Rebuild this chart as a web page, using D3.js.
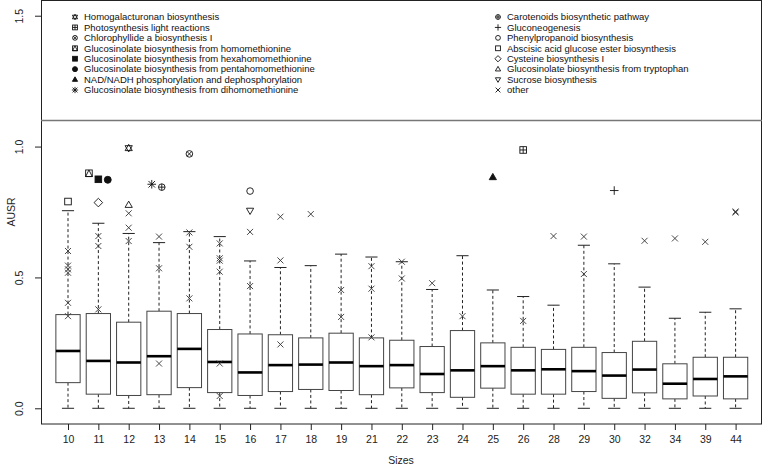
<!DOCTYPE html>
<html><head><meta charset="utf-8">
<script src="https://cdn.jsdelivr.net/npm/d3@7"></script>
<style>body{margin:0;background:#fff}svg{display:block;font-family:"Liberation Sans",Arial,sans-serif}</style>
</head><body><svg id="c" width="763" height="468"></svg>
<script>
const sizes = ["10","11","12","13","14","15","16","17","18","19","21","22","23","24","25","26","28","29","30","32","34","39","44"];
const whiskerLow = [0,0,0,0,0,0,0,0,0,0,0,0,0,0,0,0,0,0,0,0,0,0,0];
const q1 = [0.098,0.054,0.049,0.052,0.079,0.060,0.049,0.064,0.072,0.068,0.052,0.078,0.060,0.042,0.077,0.054,0.054,0.064,0.038,0.059,0.036,0.047,0.036];
const medians = [0.219,0.181,0.175,0.199,0.227,0.177,0.137,0.165,0.167,0.175,0.161,0.165,0.131,0.145,0.161,0.145,0.149,0.142,0.125,0.148,0.094,0.112,0.122];
const q3 = [0.358,0.362,0.329,0.371,0.362,0.301,0.284,0.281,0.269,0.287,0.269,0.260,0.236,0.297,0.250,0.233,0.225,0.233,0.213,0.256,0.170,0.195,0.195];
const whiskerHigh = [0.755,0.707,0.668,0.633,0.675,0.656,0.563,0.538,0.545,0.589,0.578,0.560,0.454,0.583,0.452,0.427,0.394,0.623,0.552,0.463,0.344,0.367,0.380];
// "other" outliers: size label and value
const otherSize = ["10","10","10","10","10","10","11","11","11","12","12","12","13","13","13","14","14","14","15","15","15","15","15","15","16","16","17","17","17","18","19","19","21","21","21","22","22","23","24","26","28","29","29","32","34","39","44","44"];
const otherValue = [0.601,0.545,0.531,0.518,0.403,0.352,0.658,0.620,0.378,0.745,0.690,0.639,0.656,0.535,0.171,0.672,0.617,0.420,0.630,0.573,0.564,0.522,0.171,0.047,0.674,0.467,0.732,0.565,0.244,0.742,0.452,0.349,0.543,0.457,0.271,0.560,0.496,0.478,0.352,0.334,0.658,0.656,0.513,0.640,0.649,0.636,0.752,0.748];
// named pathways
const pathways = ["Homogalacturonan biosynthesis","Photosynthesis light reactions","Chlorophyllide a biosynthesis I","Glucosinolate biosynthesis from homomethionine","Glucosinolate biosynthesis from hexahomomethionine","Glucosinolate biosynthesis from pentahomomethionine","NAD/NADH phosphorylation and dephosphorylation","Glucosinolate biosynthesis from dihomomethionine","Carotenoids biosynthetic pathway","Gluconeogenesis","Phenylpropanoid biosynthesis","Abscisic acid glucose ester biosynthesis","Cysteine biosynthesis I","Glucosinolate biosynthesis from tryptophan","Sucrose biosynthesis","other"];
const pathwayPch = [11,12,13,14,15,16,17,8,10,3,1,0,5,2,6,4];
const pathwaySize = ["12","26","14","11","11","11","25","13","13","30","16","10","11","12","16"];
const pathwayValue = [0.994,0.987,0.972,0.898,0.875,0.873,0.883,0.856,0.845,0.832,0.830,0.790,0.786,0.777,0.755];
const pathwayJitter = [0,0,0,-0.31,0,0.31,0,-0.24,0.09,0,0,0,0,0,0];
const yTicks = [0,0.5,1.0,1.5];
const legendCut = 1.1;

const svg = d3.select("#c");
const x = d3.scaleLinear().domain([0.11, 23.87]).range([41, 762]);
const y = d3.scaleLinear().domain([-0.06, 1.56]).range([424, 0]);
const pos = s => sizes.indexOf(s) + 1;
const unit = x(2) - x(1);

function sym(g, pch, cx, cy, r, col) {
  col = col || "#111";
  const s = g.append("g").attr("transform", `translate(${cx},${cy})`)
    .attr("fill","none").attr("stroke",col).attr("stroke-width",0.9);
  const tri = (up, rr) => { const h = rr*1.15; return up ? `M0,${-h}L${h*0.95},${h*0.65}L${-h*0.95},${h*0.65}Z` : `M0,${h}L${h*0.95},${-h*0.65}L${-h*0.95},${-h*0.65}Z`; };
  switch (pch) {
    case 0: s.append("rect").attr("x",-r).attr("y",-r).attr("width",2*r).attr("height",2*r); break;
    case 1: s.append("circle").attr("r",r); break;
    case 2: s.append("path").attr("d",tri(true,r)); break;
    case 3: s.append("path").attr("d",`M${-r*1.3},0H${r*1.3}M0,${-r*1.3}V${r*1.3}`); break;
    case 4: s.append("path").attr("d",`M${-r},${-r}L${r},${r}M${-r},${r}L${r},${-r}`); break;
    case 5: s.append("path").attr("d",`M0,${-r*1.3}L${r*1.3},0L0,${r*1.3}L${-r*1.3},0Z`); break;
    case 6: s.append("path").attr("d",tri(false,r)); break;
    case 8: s.append("path").attr("d",`M${-r},${-r}L${r},${r}M${-r},${r}L${r},${-r}M${-r*1.3},0H${r*1.3}M0,${-r*1.3}V${r*1.3}`); break;
    case 10: s.append("circle").attr("r",r); s.append("path").attr("d",`M${-r},0H${r}M0,${-r}V${r}`); break;
    case 11: s.append("path").attr("d",tri(true,r)+tri(false,r)); break;
    case 12: s.append("rect").attr("x",-r).attr("y",-r).attr("width",2*r).attr("height",2*r); s.append("path").attr("d",`M${-r},0H${r}M0,${-r}V${r}`); break;
    case 13: s.append("circle").attr("r",r); s.append("path").attr("d",`M${-r*0.7},${-r*0.7}L${r*0.7},${r*0.7}M${-r*0.7},${r*0.7}L${r*0.7},${-r*0.7}`); break;
    case 14: s.append("rect").attr("x",-r).attr("y",-r).attr("width",2*r).attr("height",2*r); s.append("path").attr("d",`M0,${-r}L${r},${r}L${-r},${r}Z`); break;
    case 15: s.append("rect").attr("x",-r).attr("y",-r).attr("width",2*r).attr("height",2*r).attr("fill",col); break;
    case 16: s.append("circle").attr("r",r*1.05).attr("fill",col); break;
    case 17: s.append("path").attr("d",tri(true,r)).attr("fill",col); break;
  }
}

// frame
svg.append("rect").attr("x",41.5).attr("y",0.5).attr("width",720).attr("height",423.5)
  .attr("fill","none").attr("stroke","#222").attr("stroke-width",1);
// legend separator
svg.append("line").attr("x1",41).attr("x2",762).attr("y1",y(legendCut)).attr("y2",y(legendCut))
  .attr("stroke","#777").attr("stroke-width",1.5);

// y axis
const ya = svg.append("g").attr("transform","translate(41,0)")
  .call(d3.axisLeft(y).tickValues(yTicks).tickFormat(d3.format(".1f")).tickSize(6));
ya.select(".domain").remove();
ya.selectAll("line").attr("stroke","#222");
ya.selectAll("text").attr("x",null).attr("dy",null).attr("text-anchor","middle")
  .attr("transform","translate(-18,0) rotate(-90)").attr("font-size",10.5).attr("fill","#222")
  .style("font-family","'Liberation Sans',Arial,sans-serif");

// x axis
const xa = svg.append("g").attr("transform","translate(0,424)")
  .call(d3.axisBottom(x).tickValues(sizes.map((s,i)=>i+1)).tickFormat((d)=>sizes[d-1]).tickSize(6));
xa.select(".domain").remove();
xa.selectAll("line").attr("stroke","#222");
xa.selectAll("text").attr("y",15).attr("dy","0.35em").attr("font-size",10.5).attr("fill","#222")
  .style("font-family","'Liberation Sans',Arial,sans-serif");

svg.append("text").attr("x",401).attr("y",460).attr("dy","0.35em").attr("text-anchor","middle")
  .attr("font-size",10.5).attr("fill","#222").text("Sizes");
svg.append("text").attr("transform","translate(11,212) rotate(-90)").attr("dy","0.35em").attr("text-anchor","middle")
  .attr("font-size",10.5).attr("fill","#222").text("AUSR");

// boxes
const bw = unit*0.8, cw = unit*0.4;
const bx = svg.append("g");
sizes.forEach((s,i)=>{
  const cx = x(i+1);
  const g = bx.append("g");
  g.append("line").attr("x1",cx).attr("x2",cx).attr("y1",y(q3[i])).attr("y2",y(whiskerHigh[i]))
    .attr("stroke","#222").attr("stroke-dasharray","3,2.5");
  g.append("line").attr("x1",cx).attr("x2",cx).attr("y1",y(q1[i])).attr("y2",y(whiskerLow[i]))
    .attr("stroke","#222").attr("stroke-dasharray","3,2.5");
  [whiskerHigh[i], whiskerLow[i]].forEach(v=>{
    g.append("line").attr("x1",cx-cw/2).attr("x2",cx+cw/2).attr("y1",y(v)).attr("y2",y(v)).attr("stroke","#222");
  });
  g.append("rect").attr("x",cx-bw/2).attr("y",y(q3[i])).attr("width",bw).attr("height",y(q1[i])-y(q3[i]))
    .attr("fill","#fff").attr("stroke","#444");
  g.append("line").attr("x1",cx-bw/2).attr("x2",cx+bw/2).attr("y1",y(medians[i])).attr("y2",y(medians[i]))
    .attr("stroke","#000").attr("stroke-width",2.6);
});

// other outliers
const pg = svg.append("g");
otherSize.forEach((s,i)=> sym(pg, 4, x(pos(s)), y(otherValue[i]), 3, "#333"));
// named pathway points
pathwaySize.forEach((s,i)=> sym(pg, pathwayPch[i], x(pos(s)+pathwayJitter[i]), y(pathwayValue[i]), 3.3, "#111"));

// legend
const lg = svg.append("g");
pathways.forEach((name,i)=>{
  const col = i < 8 ? 0 : 1;
  const row = i % 8;
  const ly = 17 + row*10.43;
  const sx = col === 0 ? 75 : 498;
  sym(lg, pathwayPch[i], sx, ly, 2.4, "#111");
  lg.append("text").attr("x", sx+9).attr("y", ly).attr("dy","0.35em")
    .attr("font-size",9.5).attr("fill","#111").text(name);
});
</script></body></html>
